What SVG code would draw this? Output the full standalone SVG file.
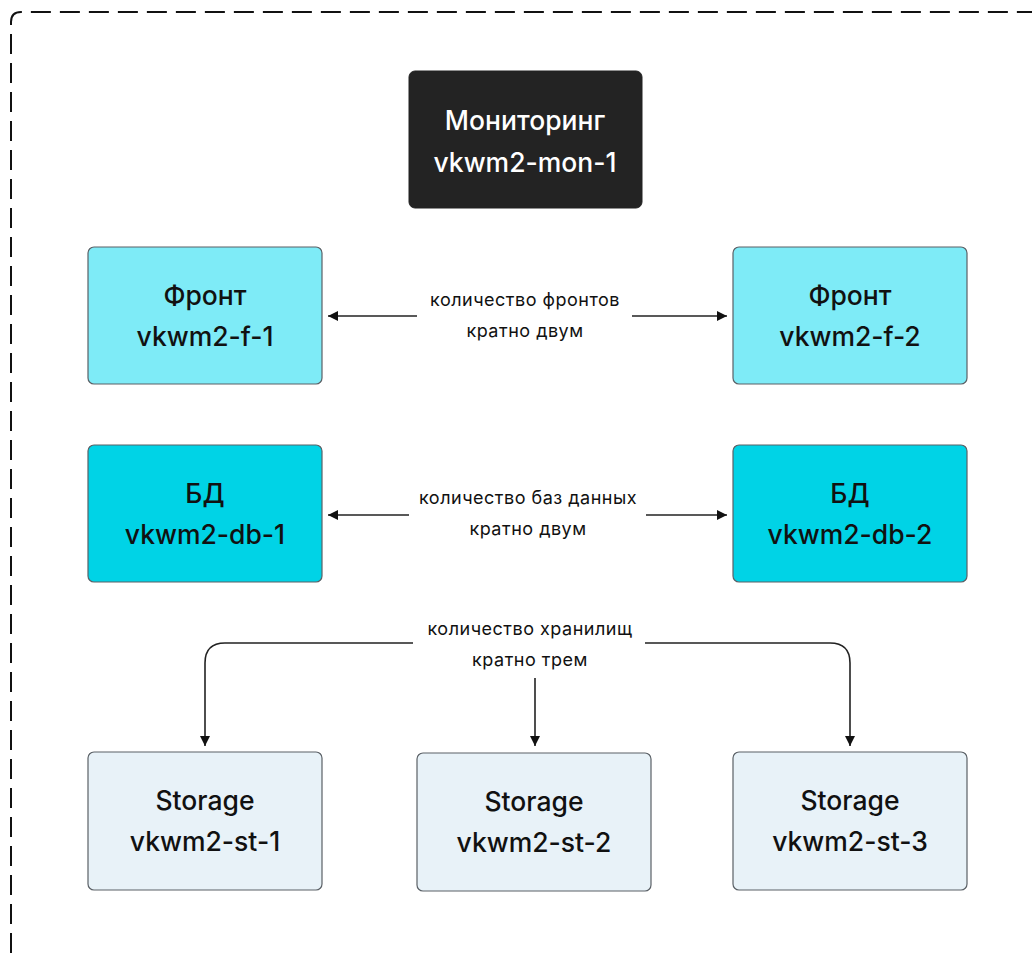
<svg xmlns="http://www.w3.org/2000/svg" width="1032" height="953" viewBox="0 0 1032 953">
<defs>
<marker id="ah" viewBox="0 0 10 10" refX="10" refY="5" markerWidth="10" markerHeight="10" markerUnits="userSpaceOnUse" orient="auto">
<path d="M0,0 L10,5 L0,10 Z" fill="#111"/>
</marker>
<style>
.frame{fill:none;stroke:#111;stroke-width:2;stroke-dasharray:20 9}
.node{stroke:#5a6066;stroke-width:1.2}
.t{font-family:Inter,"Noto Sans",sans-serif;font-size:26.5px;font-weight:500;text-anchor:middle;fill:#111}
.w{fill:#fff}
.lbl{font-family:Inter,"Noto Sans",sans-serif;font-size:18px;letter-spacing:0.5px;text-anchor:middle;fill:#111}
.c{fill:none;stroke:#222;stroke-width:1.6}
</style>
</defs>
<rect width="1032" height="953" fill="#fff"/>
<path class="frame" d="M11,953 L11,22 Q11,12 21,12 L1032,12"/>
<g id="connectors">
<path class="c" d="M417,316 L328,316" marker-end="url(#ah)"/>
<path class="c" d="M632,316 L727,316" marker-end="url(#ah)"/>
<path class="c" d="M409,515 L328,515" marker-end="url(#ah)"/>
<path class="c" d="M646,515 L727,515" marker-end="url(#ah)"/>
<path class="c" d="M413,643 L225,643 Q205,643 205,663 L205,746" marker-end="url(#ah)"/>
<path class="c" d="M645,643 L830,643 Q850,643 850,663 L850,746" marker-end="url(#ah)"/>
<path class="c" d="M535,678 L535,746" marker-end="url(#ah)"/>
<text class="lbl" x="525" y="306">количество фронтов</text>
<text class="lbl" x="525" y="337">кратно двум</text>
<text class="lbl" x="528" y="504">количество баз данных</text>
<text class="lbl" x="528" y="535">кратно двум</text>
<text class="lbl" x="530" y="635">количество хранилищ</text>
<text class="lbl" x="530" y="666">кратно трем</text>
</g>
<g id="mon">
<rect x="409" y="71" width="233" height="137" rx="6" fill="#232323" stroke="#232323"/>
<text class="t w" x="525" y="130">Мониторинг</text>
<text class="t w" x="525" y="172">vkwm2-mon-1</text>
</g>
<g id="front1">
<rect class="node" x="88" y="247" width="234" height="137" rx="6" fill="#7eebf7"/>
<text class="t" x="205" y="305">Фронт</text>
<text class="t" x="205" y="346">vkwm2-f-1</text>
</g>
<g id="front2">
<rect class="node" x="733" y="247" width="234" height="137" rx="6" fill="#7eebf7"/>
<text class="t" x="850" y="305">Фронт</text>
<text class="t" x="850" y="346">vkwm2-f-2</text>
</g>
<g id="db1">
<rect class="node" x="88" y="445" width="234" height="137" rx="6" fill="#00d3e6"/>
<text class="t" x="205" y="503">БД</text>
<text class="t" x="205" y="544">vkwm2-db-1</text>
</g>
<g id="db2">
<rect class="node" x="733" y="445" width="234" height="137" rx="6" fill="#00d3e6"/>
<text class="t" x="850" y="503">БД</text>
<text class="t" x="850" y="544">vkwm2-db-2</text>
</g>
<g id="st1">
<rect class="node" x="88" y="752" width="234" height="138" rx="6" fill="#e8f2f8"/>
<text class="t" x="205" y="810">Storage</text>
<text class="t" x="205" y="851">vkwm2-st-1</text>
</g>
<g id="st2">
<rect class="node" x="417" y="753" width="234" height="138" rx="6" fill="#e8f2f8"/>
<text class="t" x="534" y="811">Storage</text>
<text class="t" x="534" y="852">vkwm2-st-2</text>
</g>
<g id="st3">
<rect class="node" x="733" y="752" width="234" height="138" rx="6" fill="#e8f2f8"/>
<text class="t" x="850" y="810">Storage</text>
<text class="t" x="850" y="851">vkwm2-st-3</text>
</g>
</svg>
